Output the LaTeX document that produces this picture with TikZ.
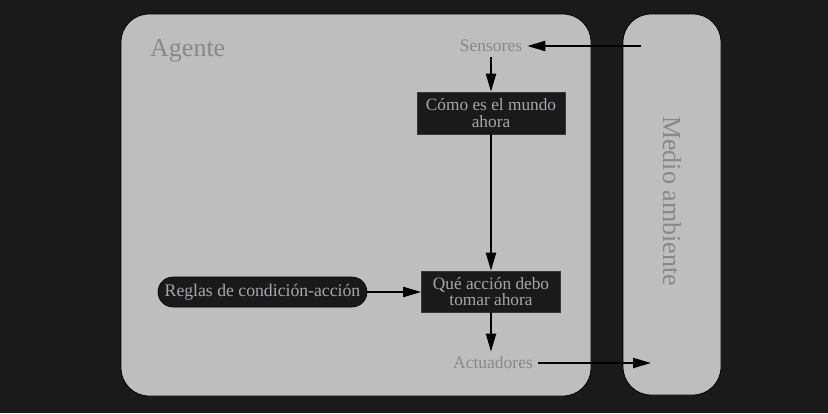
\documentclass[tikz,border=0pt]{standalone}
\usepackage{fontspec}
\setmainfont{Liberation Serif}
\usetikzlibrary{arrows.meta,shapes.misc}
\definecolor{bgdark}{HTML}{1A1A1A}
\definecolor{panel}{HTML}{BEBEBE}
\definecolor{labgray}{HTML}{888888}
\definecolor{boxtext}{HTML}{A4A8AE}
\begin{document}
\begin{tikzpicture}[x=1pt,y=1pt,
  panelbox/.style={draw=black,fill=panel,line width=0.8pt,rounded corners=28pt},
  procbox/.style={draw=black!70!panel,fill=bgdark,text=boxtext,font=\fontsize{17.3}{16.5}\selectfont,align=center,inner sep=0pt,line width=0.6pt},
  rulebox/.style={rounded rectangle,draw=black,fill=bgdark,text=boxtext,font=\fontsize{17.7}{17}\selectfont,inner sep=0pt,minimum width=209pt,minimum height=30pt,line width=0.6pt},
  lab/.style={text=labgray,font=\fontsize{17.5}{17}\selectfont,inner sep=5pt},
  bigl/.style={text=labgray,font=\fontsize{26}{26}\selectfont,inner sep=0pt},
  arr/.style={-{Triangle[length=18pt,width=10pt]},line width=2pt,black}]
\fill[bgdark] (0,0) rectangle (828,-413);
\useasboundingbox (0,0) rectangle (828,-413);
\draw[panelbox] (121,-14) rectangle (591,-396);
\draw[panelbox] (623,-14) rectangle (721,-395);
\node[bigl,anchor=base west] (agente) at (150,-56) {Agente};
\node[bigl,rotate=-90] (medio) at (672,-201) {Medio ambiente};
\node[lab] (sens) at (491,-46) {Sensores};
\node[lab] (act) at (493,-363) {Actuadores};
\node[procbox,minimum width=148pt,minimum height=42pt] (como) at (491,-113) {Cómo es el mundo\\ahora};
\node[procbox,minimum width=139pt,minimum height=41pt] (que) at (491,-291.5) {Qué acción debo\\tomar ahora};
\node[rulebox] (reglas) at (262.5,-292) {Reglas de condición-acción};
\coordinate (envin) at (641,-46);
\coordinate (envout) at (651,-363);
\draw[arr] (envin) -- (sens.east);
\draw[arr] (sens.south) -- (como.north);
\draw[arr] (como.south) -- (que.north);
\draw[arr] (reglas.east) -- (que.west |- reglas.east);
\draw[arr] (que.south) -- (que.south |- act.north);
\draw[arr] (act.east) -- (envout);
\end{tikzpicture}
\end{document}
